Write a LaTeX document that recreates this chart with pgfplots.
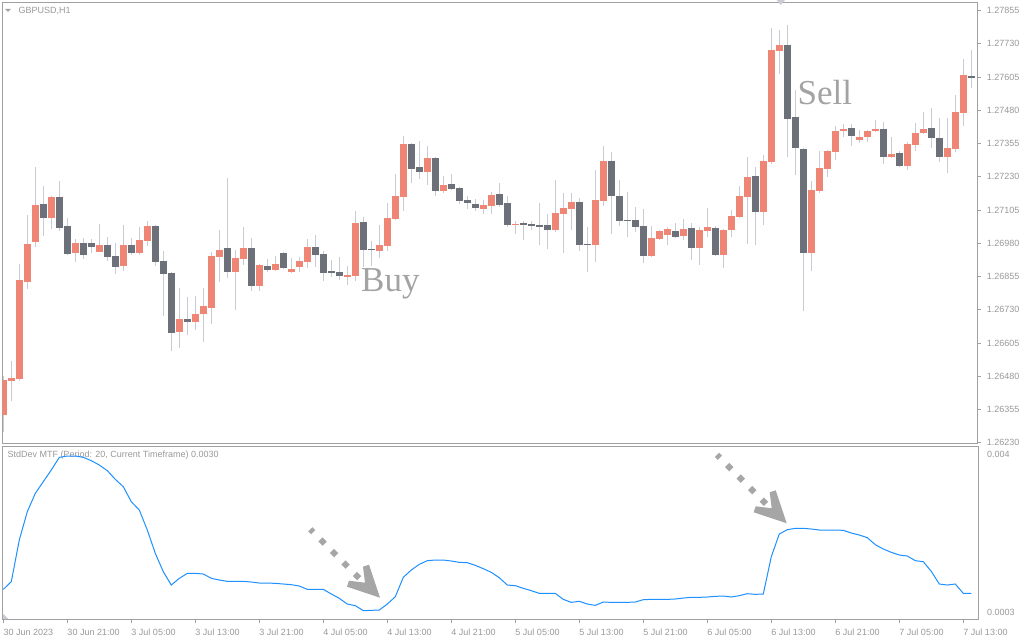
\documentclass[border=0pt]{standalone}
\usepackage{fontspec}
\setmainfont{Liberation Sans}
\newfontfamily\serifb{Liberation Serif}
\usepackage{pgfplots}
\usepackage{pgfplotstable}
\pgfplotsset{compat=1.18}
\definecolor{framegray}{HTML}{A0A0A0}
\definecolor{labelgray}{HTML}{999999}
\definecolor{upc}{HTML}{EE8575}
\definecolor{dnc}{HTML}{6B7079}
\definecolor{wickc}{HTML}{C9CCD3}
\definecolor{bluel}{HTML}{1E90FF}
\definecolor{annot}{HTML}{A6A6A6}
\definecolor{textgray}{HTML}{A3A3A3}

\pgfplotstableread{
k O H L C d
0 1.263345 1.264811 1.262719 1.264661 1
1 1.264623 1.265375 1.263871 1.264748 1
2 1.264698 1.269009 1.264623 1.268420 1
3 1.268345 1.270863 1.268094 1.269773 1
4 1.269848 1.272680 1.269673 1.271239 1
5 1.271277 1.271953 1.270074 1.270750 0
6 1.270750 1.271577 1.270337 1.271540 1
7 1.271540 1.272141 1.270274 1.270375 0
8 1.270450 1.270750 1.269360 1.269397 0
9 1.269435 1.269961 1.269096 1.269811 1
10 1.269811 1.269999 1.269209 1.269360 0
11 1.269811 1.269961 1.269435 1.269660 0
12 1.269472 1.270525 1.269472 1.269735 1
13 1.269735 1.270036 1.269134 1.269284 0
14 1.269322 1.269811 1.268645 1.268909 0
15 1.268946 1.270487 1.268758 1.269735 1
16 1.269735 1.269999 1.269360 1.269435 0
17 1.269435 1.270412 1.269360 1.269923 1
18 1.269886 1.270638 1.269698 1.270450 1
19 1.270450 1.270475 1.268946 1.269096 0
20 1.269134 1.269510 1.267067 1.268645 0
21 1.268683 1.268720 1.265751 1.266428 0
22 1.266465 1.268119 1.265864 1.266954 1
23 1.266954 1.267781 1.266352 1.266841 0
24 1.266841 1.267818 1.266540 1.267142 1
25 1.267142 1.268119 1.266089 1.267442 1
26 1.267367 1.269472 1.266766 1.269322 1
27 1.269284 1.270299 1.268345 1.269547 1
28 1.269623 1.272254 1.268495 1.268720 0
29 1.268720 1.269547 1.267292 1.269247 1
30 1.269209 1.270412 1.268984 1.269623 1
31 1.269623 1.269999 1.268006 1.268194 0
32 1.268194 1.269021 1.268006 1.268984 1
33 1.268946 1.269209 1.268720 1.268796 0
34 1.268796 1.269322 1.268771 1.269021 1
35 1.269435 1.269460 1.268833 1.268871 0
36 1.268720 1.269247 1.268695 1.268833 1
37 1.268909 1.269284 1.268720 1.269134 1
38 1.269096 1.269961 1.268871 1.269660 1
39 1.269660 1.270111 1.268909 1.269360 0
40 1.269397 1.269510 1.268382 1.268683 0
41 1.268758 1.269172 1.268533 1.268683 0
42 1.268720 1.269284 1.268420 1.268570 0
43 1.268533 1.268946 1.268232 1.268608 1
44 1.268570 1.271014 1.268382 1.270562 1
45 1.270600 1.270788 1.268909 1.269547 0
46 1.269585 1.269886 1.268946 1.269547 0
47 1.269510 1.270487 1.269247 1.269735 1
48 1.269698 1.271314 1.269510 1.270750 1
49 1.270713 1.272404 1.270688 1.271577 1
50 1.271540 1.273833 1.271014 1.273532 1
51 1.273532 1.273570 1.272066 1.272592 0
52 1.272667 1.273645 1.272216 1.272480 0
53 1.272480 1.273457 1.271991 1.273006 1
54 1.273006 1.273031 1.271577 1.271765 0
55 1.271765 1.272329 1.271690 1.271991 1
56 1.272028 1.272404 1.271803 1.271841 0
57 1.271878 1.271903 1.271277 1.271389 0
58 1.271427 1.271577 1.271089 1.271314 0
59 1.271277 1.271465 1.271014 1.271126 0
60 1.271089 1.271427 1.270901 1.271239 1
61 1.271202 1.271728 1.270901 1.271615 1
62 1.271652 1.272066 1.271164 1.271239 0
63 1.271314 1.271577 1.270412 1.270487 0
64 1.270487 1.270638 1.270149 1.270525 1
65 1.270562 1.270638 1.269923 1.270487 0
66 1.270525 1.270638 1.270299 1.270450 0
67 1.270487 1.271314 1.269735 1.270412 0
68 1.270487 1.270901 1.269585 1.270299 0
69 1.270299 1.272179 1.270224 1.270938 1
70 1.270901 1.271690 1.269435 1.271126 1
71 1.271089 1.271690 1.270299 1.271352 1
72 1.271352 1.271502 1.269510 1.269735 0
73 1.269773 1.270412 1.268720 1.269735 0
74 1.269735 1.272555 1.269096 1.271427 1
75 1.271389 1.273457 1.271202 1.272893 1
76 1.272893 1.273231 1.270149 1.271577 0
77 1.271577 1.272179 1.270450 1.270638 0
78 1.270675 1.271728 1.270036 1.270638 0
79 1.270675 1.271164 1.270224 1.270412 0
80 1.270450 1.271089 1.269059 1.269322 0
81 1.269322 1.270450 1.269284 1.269999 1
82 1.269961 1.270299 1.269936 1.270262 1
83 1.270111 1.270412 1.269735 1.270337 1
84 1.270262 1.270562 1.270011 1.270036 0
85 1.270074 1.270713 1.269923 1.270337 1
86 1.270375 1.270562 1.269172 1.269623 0
87 1.269623 1.270412 1.268984 1.270299 1
88 1.270262 1.271126 1.270036 1.270412 1
89 1.270375 1.270450 1.269334 1.269360 0
90 1.269360 1.270337 1.268871 1.270299 1
91 1.270299 1.271051 1.270036 1.270826 1
92 1.270788 1.271953 1.270750 1.271577 1
93 1.271540 1.273043 1.269773 1.272292 1
94 1.272329 1.272667 1.269735 1.270976 0
95 1.270976 1.273119 1.270487 1.272893 1
96 1.272855 1.277893 1.272780 1.277066 1
97 1.277028 1.277817 1.276163 1.277253 1
98 1.277253 1.278005 1.273043 1.274472 0
99 1.274547 1.275562 1.272367 1.273382 0
100 1.273344 1.273369 1.267255 1.269435 0
101 1.269435 1.272141 1.268758 1.271803 1
102 1.271765 1.273269 1.271690 1.272630 1
103 1.272592 1.273306 1.272292 1.273269 1
104 1.273231 1.274209 1.272931 1.274021 1
105 1.274021 1.274284 1.273795 1.274096 1
106 1.274133 1.274284 1.273457 1.273833 0
107 1.273682 1.274058 1.273570 1.273795 1
108 1.273795 1.274058 1.273607 1.274021 1
109 1.274021 1.274434 1.273983 1.274096 1
110 1.274096 1.274359 1.272780 1.273043 0
111 1.273043 1.273795 1.273018 1.273156 1
112 1.273194 1.273269 1.272667 1.272705 0
113 1.272705 1.273607 1.272555 1.273532 1
114 1.273494 1.274321 1.273269 1.273946 1
115 1.273946 1.274735 1.273920 1.274096 1
116 1.274133 1.274885 1.273382 1.273758 0
117 1.273758 1.274509 1.272855 1.273043 0
118 1.273043 1.274509 1.272442 1.273382 1
119 1.273344 1.275374 1.273231 1.274735 1
120 1.274697 1.276727 1.274209 1.276126 1
121 1.276088 1.277066 1.275637 1.276013 0
}\candles

\pgfplotstableread{
k v
0 0.000844
1 0.001023
2 0.001995
3 0.002655
4 0.003083
5 0.003355
6 0.003627
7 0.003922
8 0.003953
9 0.003953
10 0.003922
11 0.003844
12 0.003743
13 0.003611
14 0.003409
15 0.003238
16 0.002888
17 0.002694
18 0.002228
19 0.001684
20 0.001256
21 0.000945
22 0.001101
23 0.001217
24 0.001217
25 0.001202
26 0.001101
27 0.001062
28 0.001031
29 0.001031
30 0.001031
31 0.001015
32 0.000992
33 0.000992
34 0.000984
35 0.000969
36 0.000953
37 0.000922
38 0.000844
39 0.000844
40 0.000844
41 0.000736
42 0.000635
43 0.000502
44 0.000464
45 0.000347
46 0.000355
47 0.000362
48 0.000502
49 0.000673
50 0.001124
51 0.001295
52 0.001427
53 0.001513
54 0.001528
55 0.001528
56 0.001505
57 0.001474
58 0.001466
59 0.001404
60 0.001326
61 0.001241
62 0.001116
63 0.000945
64 0.000930
65 0.000868
66 0.000813
67 0.000751
68 0.000751
69 0.000751
70 0.000611
71 0.000541
72 0.000565
73 0.000502
74 0.000471
75 0.000549
76 0.000541
77 0.000541
78 0.000541
79 0.000549
80 0.000603
81 0.000611
82 0.000611
83 0.000611
84 0.000619
85 0.000642
86 0.000658
87 0.000658
88 0.000666
89 0.000681
90 0.000689
91 0.000666
92 0.000697
93 0.000743
94 0.000728
95 0.000736
96 0.001606
97 0.002134
98 0.002235
99 0.002267
100 0.002267
101 0.002251
102 0.002228
103 0.002228
104 0.002228
105 0.002220
106 0.002158
107 0.002111
108 0.002049
109 0.001886
110 0.001785
111 0.001707
112 0.001645
113 0.001622
114 0.001513
115 0.001489
116 0.001264
117 0.000969
118 0.000945
119 0.000969
120 0.000751
121 0.000751
}\stddev

\begin{document}
\begin{tikzpicture}[x=1pt,y=1pt]
\path[use as bounding box] (0,0) rectangle (1024,640);
\fill[white] (0,0) rectangle (1024,640);

% header texts
\node[anchor=west, inner sep=0pt, text=labelgray, font=\fontsize{9}{10}\selectfont] at (18.3,629.5) {GBPUSD,H1};
\node[anchor=west, inner sep=0pt, text=labelgray, font=\fontsize{9}{10}\selectfont] at (7.3,185) {StdDev MTF (Period: 20, Current Timeframe) 0.0030};

% main price panel
\begin{axis}[
  at={(2.3pt,196pt)}, anchor=south west,
  width=975.4pt, height=441.7pt, scale only axis,
  xmin=-0.125, xmax=121.8,
  ymin=1.262255, ymax=1.278859,
  axis line style={draw=framegray, line width=1pt},
  xtick=\empty,
  scaled y ticks=false,
  ytick={1.26230,1.26355,1.26480,1.26605,1.26730,1.26855,1.26980,1.27105,1.27230,1.27355,1.27480,1.27605,1.27730,1.27855},
  yticklabels={1.26230,1.26355,1.26480,1.26605,1.26730,1.26855,1.26980,1.27105,1.27230,1.27355,1.27480,1.27605,1.27730,1.27855},
  ytick pos=right, yticklabel pos=right,
  tick align=outside, major tick length=3pt,
  tick style={draw=framegray, line width=1pt},
  yticklabel style={anchor=west, inner sep=0pt, xshift=6pt, text=labelgray, font=\fontsize{9}{10}\selectfont},
]
\addplot[draw=wickc, line width=1pt, quiver={u=0, v=\thisrow{H}-\thisrow{L}}] table[x=k, y=L] {\candles};
\addplot[draw=upc, line width=6.6pt, quiver={u=0, v=\thisrow{C}-\thisrow{O}}, restrict expr to domain={\thisrow{d}}{0.5:1.5}] table[x=k, y=O] {\candles};
\addplot[draw=dnc, line width=6.6pt, quiver={u=0, v=\thisrow{C}-\thisrow{O}}, restrict expr to domain={\thisrow{d}}{-0.5:0.5}] table[x=k, y=O] {\candles};
\end{axis}

% indicator panel
\begin{axis}[
  at={(2.3pt,21pt)}, anchor=south west,
  width=975.7pt, height=172.7pt, scale only axis,
  xmin=-0.125, xmax=121.84,
  ymin=0.000153, ymax=0.0041795,
  axis line style={draw=framegray, line width=1pt},
  xtick={0,8,16,24,32,40,48,56,64,72,80,88,96,104,112,120},
  xticklabels={30 Jun 2023,30 Jun 21:00,3 Jul 05:00,3 Jul 13:00,3 Jul 21:00,4 Jul 05:00,4 Jul 13:00,4 Jul 21:00,5 Jul 05:00,5 Jul 13:00,5 Jul 21:00,6 Jul 05:00,6 Jul 13:00,6 Jul 21:00,7 Jul 05:00,7 Jul 13:00},
  xtick pos=left,
  scaled y ticks=false,
  ytick={0.0003,0.004}, yticklabels={0.0003,0.004},
  ytick pos=right, yticklabel pos=right,
  tick align=outside, major tick length=4pt,
  tick style={draw=framegray, line width=1pt},
  ytick style={draw=none},
  xticklabel style={anchor=west, inner sep=0pt, yshift=-9.3pt, text=labelgray, font=\fontsize{9}{10}\selectfont},
  yticklabel style={anchor=west, inner sep=0pt, xshift=5pt, text=labelgray, font=\fontsize{9}{10}\selectfont},
]
\addplot[draw=bluel, line width=1pt] table[x=k, y=v] {\stddev};
\end{axis}

% Buy / Sell labels
\node[anchor=base west, inner sep=0pt, text=textgray, font=\serifb\fontsize{35}{40}\selectfont] at (361,348.3) {Buy};
\node[anchor=base west, inner sep=0pt, text=textgray, font=\serifb\fontsize{35}{40}\selectfont] at (797.5,535) {Sell};

% dotted arrows in indicator panel
\draw[annot, line width=6pt, dash pattern=on 4pt off 10.3pt on 6pt off 10.3pt on 6pt off 10.3pt on 6pt off 10.3pt on 6pt off 10.3pt] (310.3,110.7) -- (359.3,61.7);
\fill[annot, shift={(380,42.3)}] (0,0) -- (-33,11) -- (-31,17) -- (-15,15) -- (-17,31) -- (-11,33) -- cycle;
\draw[annot, line width=6pt, dash pattern=on 4pt off 10.3pt on 6pt off 10.3pt on 6pt off 10.3pt on 6pt off 10.3pt on 6pt off 10.3pt] (717,185.1) -- (766,136.1);
\fill[annot, shift={(786.7,116.7)}] (0,0) -- (-33,11) -- (-31,17) -- (-15,15) -- (-17,31) -- (-11,33) -- cycle;

% small markers
\fill[framegray] (5,631) -- (11,631) -- (8,628) -- cycle;
\fill[wickc] (776.7,640) -- (785,640) -- (780.8,635) -- cycle;
\fill[wickc] (2.8,26.7) -- (2.8,21.2) -- (8.3,21.2) -- cycle;
\end{tikzpicture}
\end{document}
